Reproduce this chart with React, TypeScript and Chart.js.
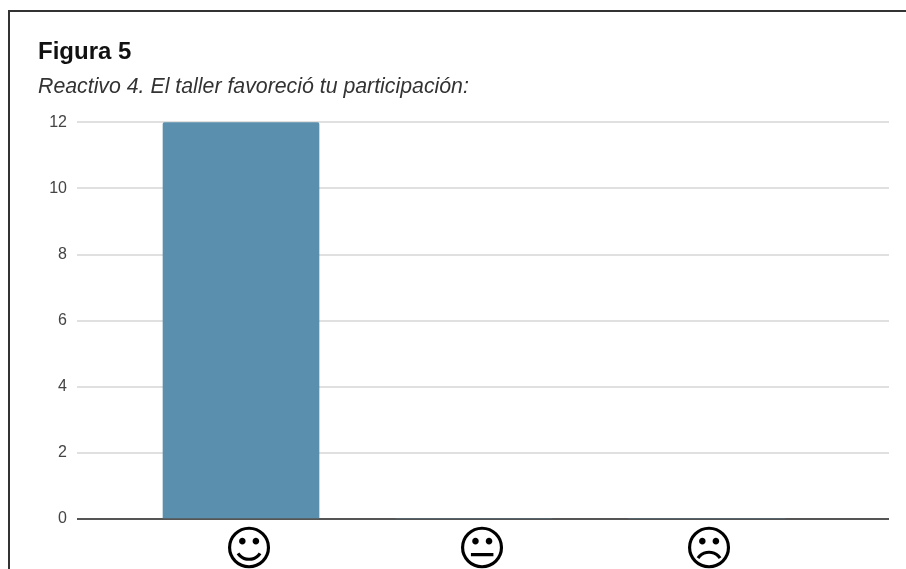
import React, { useEffect, useRef } from "react";
import { Chart, registerables } from "chart.js";

Chart.register(...registerables);

const titleText = "Figura 5";
const subtitleText = "Reactivo 4. El taller favoreció tu participación:";
const categories = ["☺", "😐", "☹"];
const categoryPositions = [0, 1, 2];
const labelPositions = [0, 1.013, 2];
const responses = [12, 0, 0];
const valueTicks = [0, 2, 4, 6, 8, 10, 12];

const SANS = "'Liberation Sans', Arial, sans-serif";

export default function App() {
  const canvasRef = useRef<HTMLCanvasElement | null>(null);

  useEffect(() => {
    document.body.style.margin = "0";
    document.body.style.overflow = "hidden";
    const chart = new Chart(canvasRef.current!, {
      type: "bar",
      data: {
        datasets: [
          {
            data: categoryPositions.map((x, i) => ({ x, y: responses[i] })),
            backgroundColor: "#5a90ae",
            borderRadius: { topLeft: 2, topRight: 2 },
            borderSkipped: "bottom",
            barThickness: 156,
          },
        ],
      },
      options: {
        animation: false,
        responsive: false,
        layout: { padding: { left: 38, right: 17, top: 38, bottom: 0 } },
        plugins: {
          legend: { display: false },
          tooltip: { enabled: false },
          title: {
            display: true,
            text: titleText,
            align: "start",
            color: "#111111",
            font: { family: SANS, size: 24, weight: "bold" },
            padding: { top: 0, bottom: 7 },
          },
          subtitle: {
            display: true,
            text: subtitleText,
            align: "start",
            color: "#333333",
            font: { family: SANS, size: 21.3, style: "italic", weight: "normal" },
            padding: { top: 0, bottom: 23 },
          },
        },
        scales: {
          // Bars use their own horizontal axis, offset from the face labels.
          x: {
            type: "linear",
            display: false,
            offset: false,
            min: -0.7039,
            max: 2.7811,
            grid: { display: false },
          },
          xFaces: {
            type: "linear",
            position: "bottom",
            offset: false,
            min: -0.748,
            max: 2.783,
            grid: { display: false, drawTicks: false },
            border: { display: false },
            afterBuildTicks: (axis: any) => {
              axis.ticks = labelPositions.map((value) => ({ value }));
            },
            afterFit: (axis: any) => {
              axis.height = 50;
            },
            ticks: {
              autoSkip: false,
              maxRotation: 0,
              padding: 5,
              color: "#000000",
              font: { family: "'DejaVu Sans'", size: 48 },
              callback: (value: any) => categories[labelPositions.indexOf(Number(value))] ?? "",
            },
          },
          y: {
            min: 0,
            max: 12,
            afterBuildTicks: (axis: any) => {
              axis.ticks = valueTicks.map((value) => ({ value }));
            },
            afterFit: (axis: any) => {
              axis.width = 39;
            },
            border: { display: false },
            grid: {
              drawTicks: false,
              lineWidth: 2,
              color: (ctx: any) => (ctx.tick?.value === 0 ? "#555555" : "#e0e0e0"),
            },
            ticks: {
              padding: 10,
              color: "#444444",
              font: { family: SANS, size: 16 },
            },
          },
        },
      },
    } as any);
    return () => chart.destroy();
  }, []);

  return (
    <div style={{ position: "absolute", left: 0, top: 0, width: 906, height: 569, overflow: "hidden", background: "#ffffff" }}>
      <canvas ref={canvasRef} width={906} height={569} style={{ position: "absolute", left: 0, top: 0 }} />
      <div
        style={{
          position: "absolute",
          left: 8,
          top: 10,
          width: 920,
          height: 600,
          borderLeft: "2px solid #333333",
          borderTop: "2px solid #333333",
        }}
      />
    </div>
  );
}
